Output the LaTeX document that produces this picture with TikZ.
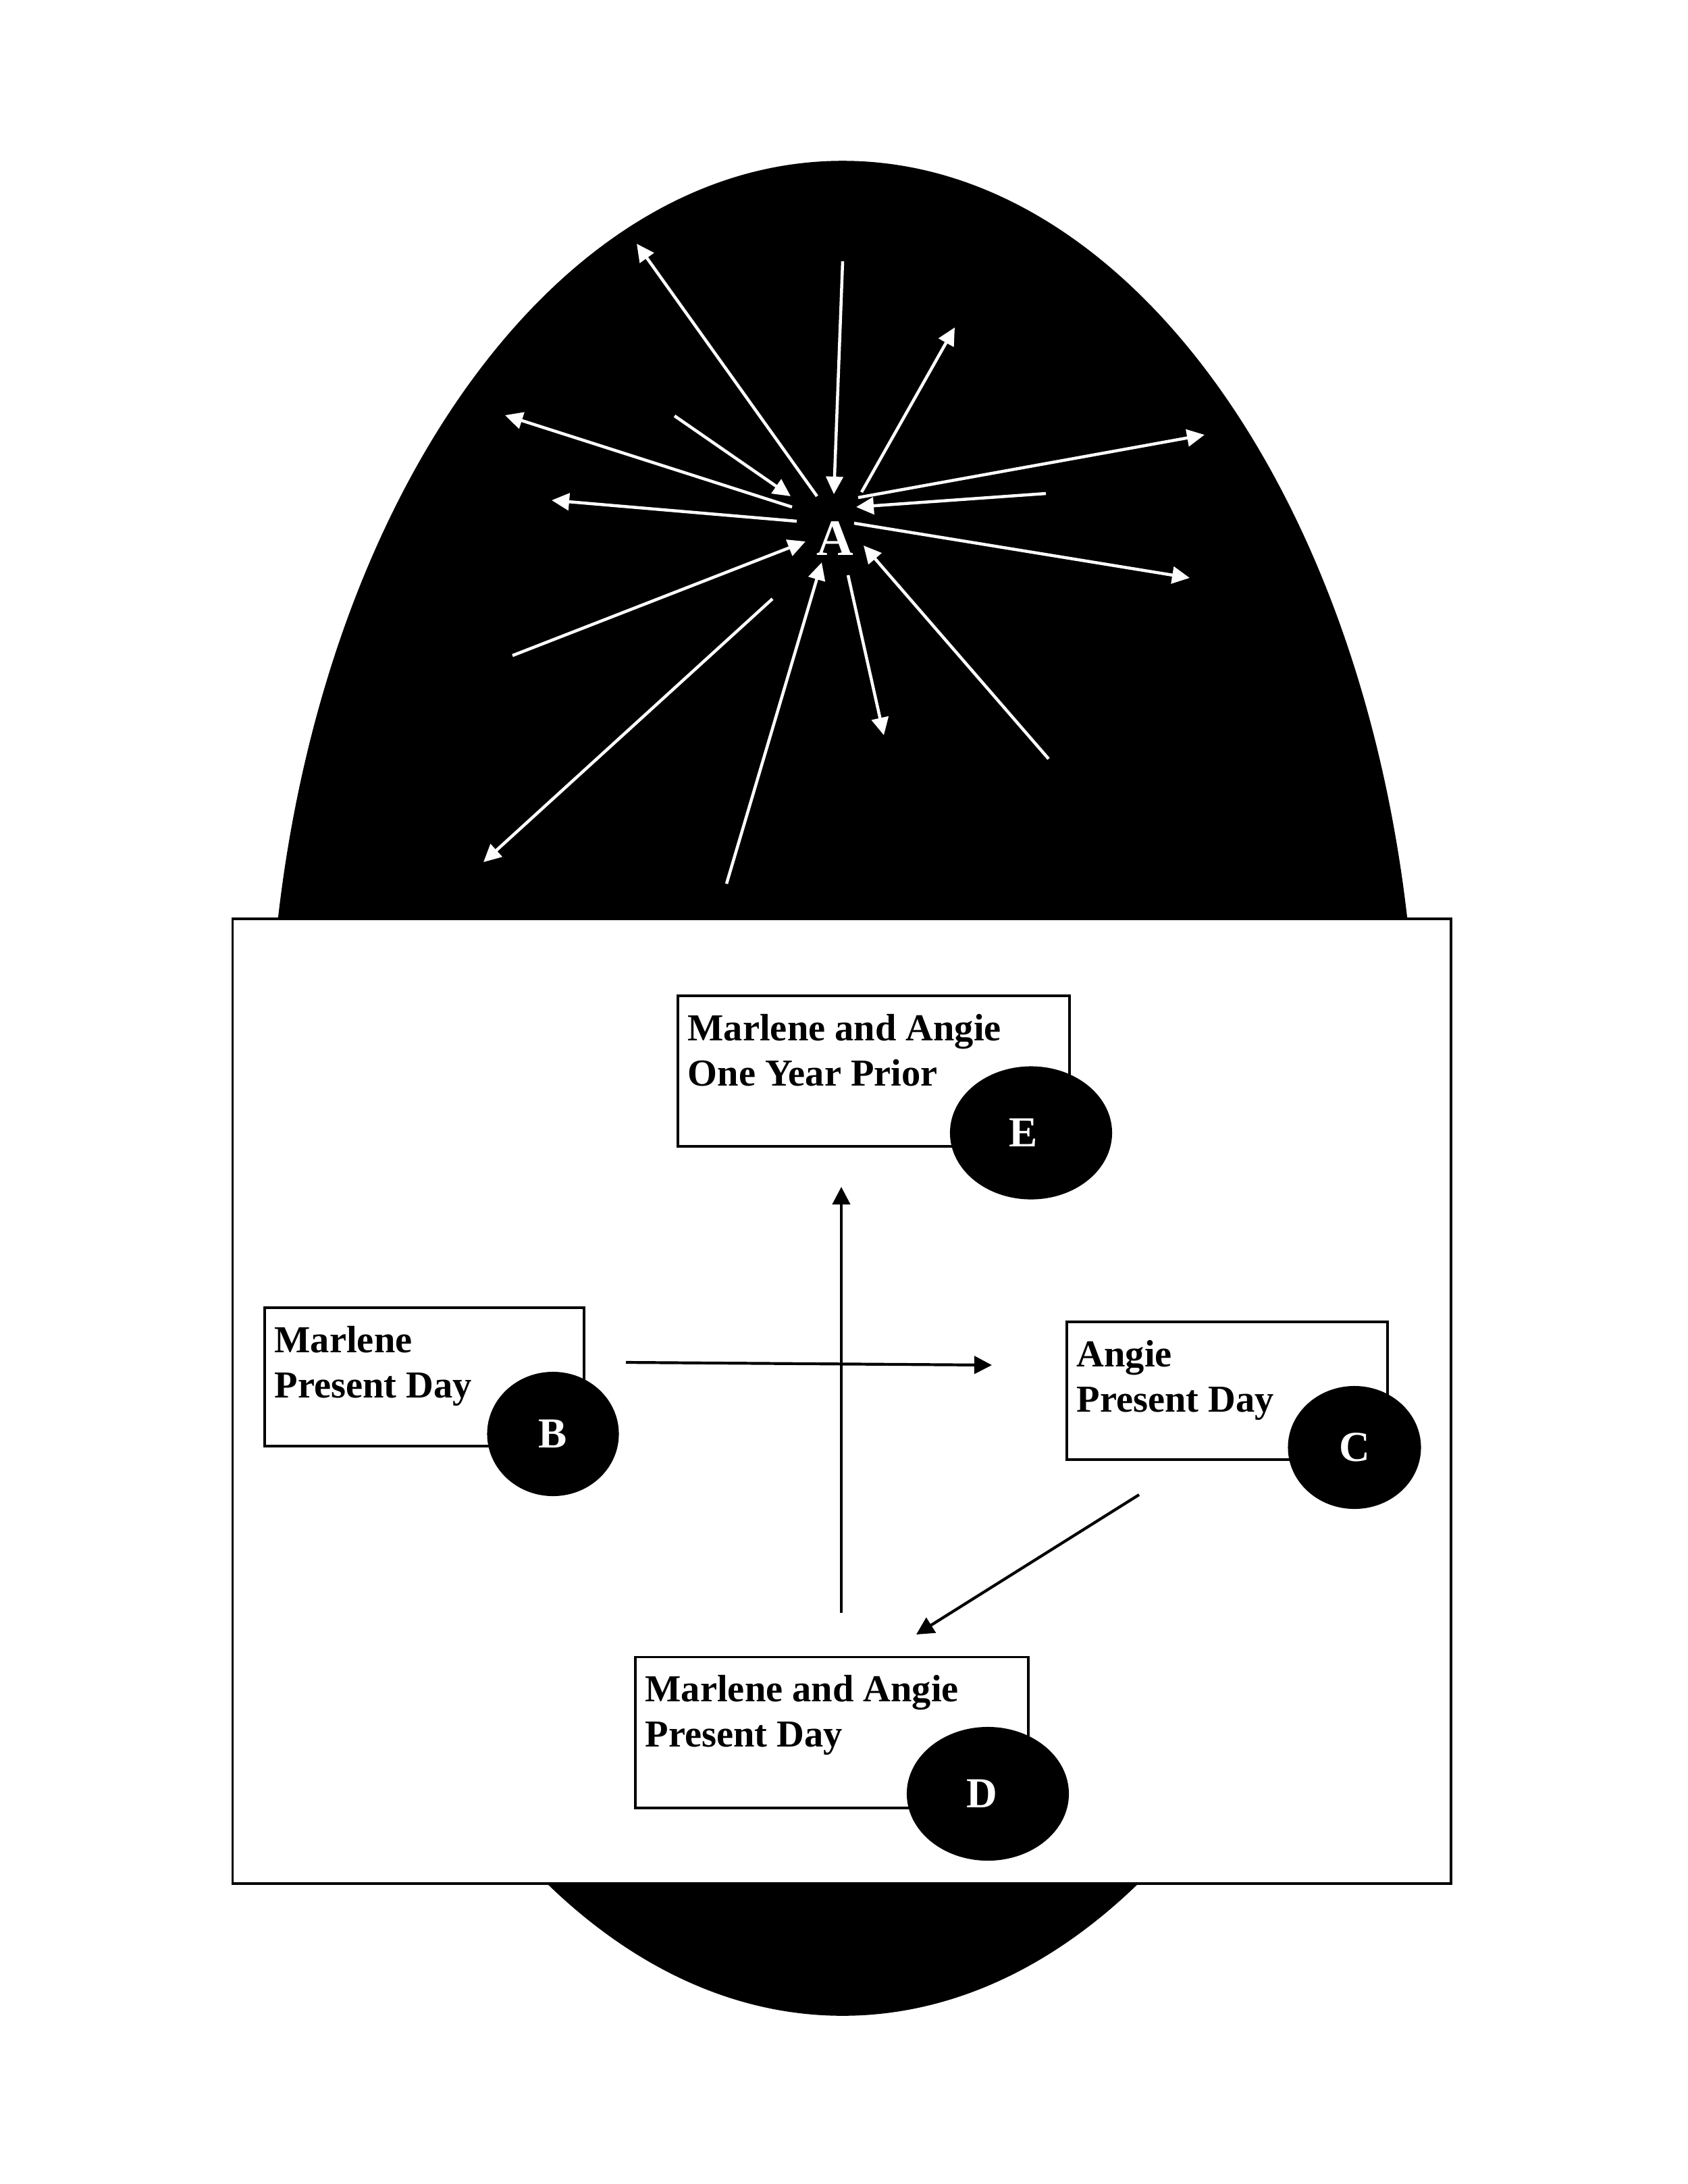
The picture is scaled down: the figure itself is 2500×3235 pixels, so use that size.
\documentclass[tikz,border=0pt]{standalone}
\usepackage{fontspec}
\setmainfont{Liberation Serif}
\usetikzlibrary{arrows.meta,shapes.geometric,calc}
\begin{document}
\begin{tikzpicture}[x=0.01cm,y=-0.01cm,
  wline/.style={draw=white,line width=0.045cm,-{Triangle[length=0.26cm,width=0.25cm]}},
  bline/.style={draw=black,line width=0.042cm,-{Triangle[length=0.26cm,width=0.26cm]}},
  panel/.style={draw=black,fill=white,line width=0.034cm},
  txtbox/.style={draw=black,fill=white,line width=0.038cm,rectangle,inner sep=0pt},
  badge/.style={ellipse,fill=black,text=white,inner sep=0pt,font=\fontsize{18pt}{21pt}\selectfont\bfseries},
  boxtext/.style={anchor=north west,inner sep=0pt,align=left,font=\fontsize{16.05pt}{19.06pt}\selectfont\bfseries}
]
\useasboundingbox (0,0) rectangle (2500,3235);
\fill[white] (0,0) rectangle (2500,3235);

% big black egg
\fill[black] (1248,1612) ellipse [x radius=8.50cm, y radius=13.73cm];

% centre label A
\node[text=white,inner sep=0pt,font=\fontsize{21.5pt}{24pt}\selectfont\bfseries] (A) at (1237,798) {A};

% white arrows around A
\coordinate (w1a) at (1210,735);  \coordinate (w1b) at (943,361);
\coordinate (w2a) at (1248,387);  \coordinate (w2b) at (1235,732);
\coordinate (w3a) at (1276,729);  \coordinate (w3b) at (1414,485);
\coordinate (w4a) at (999,616);   \coordinate (w4b) at (1171,735);
\coordinate (w5a) at (1173,751);  \coordinate (w5b) at (748,615);
\coordinate (w6a) at (1180,772);  \coordinate (w6b) at (817,741);
\coordinate (w7a) at (1271,737);  \coordinate (w7b) at (1784,644);
\coordinate (w8a) at (1549,731);  \coordinate (w8b) at (1268,751);
\coordinate (w9a) at (1265,775);  \coordinate (w9b) at (1762,856);
\coordinate (w10a) at (759,971);  \coordinate (w10b) at (1193,802);
\coordinate (w11a) at (1144,887); \coordinate (w11b) at (716,1277);
\coordinate (w12a) at (1076,1309);\coordinate (w12b) at (1217,833);
\coordinate (w13a) at (1256,852); \coordinate (w13b) at (1309,1089);
\coordinate (w14a) at (1553,1124);\coordinate (w14b) at (1279,808);
\foreach \i in {1,...,14} {\draw[wline] (w\i a) -- (w\i b);}

% white panel
\draw[panel] (344.5,1361) rectangle (2149,2790);

% text boxes
\node[txtbox,anchor=north west,minimum width=5.80cm,minimum height=2.23cm] (bE) at (1002,1473) {};
\node[txtbox,anchor=north west,minimum width=4.73cm,minimum height=2.05cm] (bB) at (390,1935) {};
\node[txtbox,anchor=north west,minimum width=4.75cm,minimum height=2.04cm] (bC) at (1578,1956) {};
\node[txtbox,anchor=north west,minimum width=5.815cm,minimum height=2.235cm] (bD) at (939,2452.5) {};

\node[boxtext] (tE) at ($(bE.north west)+(16,28.5)$) {Marlene and Angie\\One Year Prior};
\node[boxtext] (tB) at ($(bB.north west)+(16,28.5)$) {Marlene\\Present Day};
\node[boxtext] (tC) at ($(bC.north west)+(16,28.5)$) {Angie\\Present Day};
\node[boxtext] (tD) at ($(bD.north west)+(16,28.5)$) {Marlene and Angie\\Present Day};

% black badges
\node[badge,minimum width=2.40cm,minimum height=1.97cm] (E) at (1527,1678) {E\kern0.22cm};
\node[badge,minimum width=1.95cm,minimum height=1.84cm] (B) at (819,2124) {B};
\node[badge,minimum width=1.97cm,minimum height=1.82cm] (C) at (2006,2144) {C};
\node[badge,minimum width=2.40cm,minimum height=1.98cm] (D) at (1463,2657) {D\kern0.18cm};

% black arrows
\coordinate (v1) at (1246,2389); \coordinate (v2) at (1246,1758);
\coordinate (h1) at (927,2018);  \coordinate (h2) at (1469,2022);
\coordinate (d1) at (1687,2214); \coordinate (d2) at (1357,2421);
\draw[bline] (v1) -- (v2);
\draw[bline] (h1) -- (h2);
\draw[bline] (d1) -- (d2);
\end{tikzpicture}
\end{document}
